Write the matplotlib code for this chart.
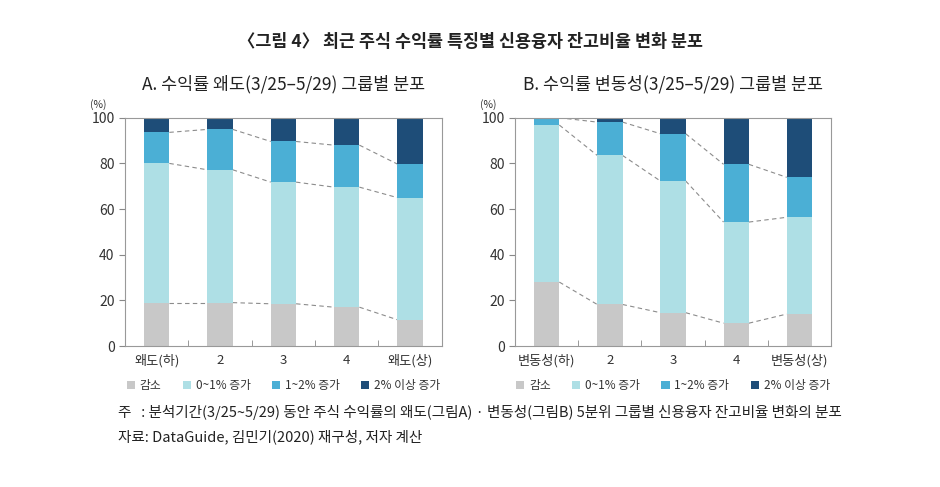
import matplotlib.pyplot as plt
from matplotlib.ticker import FixedLocator

plt.rcParams['font.family'] = ['Noto Sans CJK KR', 'DejaVu Sans']

labels_a = ['왜도(하)', '2', '3', '4', '왜도(상)']
labels_b = ['변동성(하)', '2', '3', '4', '변동성(상)']
series = ['감소', '0~1% 증가', '1~2% 증가', '2% 이상 증가']
colors = ['#c8c8c8', '#aedfe5', '#4bafd5', '#1e4d78']

# 각 구간 비율 (%)
a_dec = [19.0, 19.0, 18.5, 17.0, 11.5]
a_0_1 = [61.0, 58.2, 53.3, 52.6, 53.5]
a_1_2 = [13.6, 17.7, 17.8, 18.4, 14.7]
a_2up = [6.4, 5.1, 10.4, 12.0, 20.3]

b_dec = [28.0, 18.2, 14.6, 10.0, 14.0]
b_0_1 = [68.8, 65.3, 57.7, 44.3, 42.4]
b_1_2 = [3.2, 14.6, 20.7, 25.3, 17.5]
b_2up = [0.0, 1.9, 7.0, 20.4, 26.1]

fig = plt.figure(figsize=(9.4, 4.87), dpi=100)

def draw(ax, labels, parts, subtitle):
    x = list(range(len(labels)))
    w = 0.4
    bottom = [0] * len(x)
    tops = []
    for vals, c, name in zip(parts, colors, series):
        ax.bar(x, vals, w, bottom=bottom, color=c, label=name, zorder=2)
        bottom = [b + v for b, v in zip(bottom, vals)]
        tops.append(list(bottom))
    for t in tops[:3]:
        for i in range(len(x) - 1):
            ax.plot([x[i] + w / 2, x[i + 1] - w / 2], [t[i], t[i + 1]],
                    ls=(0, (4, 3)), color='#8c8c8c', lw=0.8, zorder=1)
    ax.set_xlim(-0.5, len(x) - 0.5)
    ax.set_ylim(0, 100)
    ax.set_yticks([0, 20, 40, 60, 80, 100])
    ax.set_xticks(x)
    ax.set_xticklabels(labels, fontsize=9.5, color='#333333')
    ax.xaxis.set_minor_locator(FixedLocator([0.5, 1.5, 2.5, 3.5]))
    ax.tick_params(axis='x', which='major', length=0, pad=6)
    ax.tick_params(axis='x', which='minor', length=4, direction='in', color='#888888')
    ax.tick_params(axis='y', length=4, direction='out', color='#888888',
                   labelsize=10, labelcolor='#333333')
    for s in ax.spines.values():
        s.set_color('#999999')
        s.set_linewidth(0.8)
    ax.text(-0.11, 1.045, '(%)', transform=ax.transAxes, fontsize=7.5, color='#333333')
    ax.set_title(subtitle, fontsize=12.5, pad=20, color='#222222')
    ax.legend(ncol=4, loc='upper center', bbox_to_anchor=(0.5, -0.1), frameon=False,
              handlelength=0.7, handleheight=0.7, handletextpad=0.4, columnspacing=1.8,
              fontsize=8.5, labelcolor='#333333')

ax1 = fig.add_axes([0.133, 0.2895, 0.337, 0.4687])
ax2 = fig.add_axes([0.548, 0.2895, 0.336, 0.4687])
draw(ax1, labels_a, [a_dec, a_0_1, a_1_2, a_2up], 'A. 수익률 왜도(3/25–5/29) 그룹별 분포')
draw(ax2, labels_b, [b_dec, b_0_1, b_1_2, b_2up], 'B. 수익률 변동성(3/25–5/29) 그룹별 분포')

fig.text(0.5, 0.914, '〈그림 4〉 최근 주식 수익률 특징별 신용융자 잔고비율 변화 분포',
         ha='center', va='center', fontsize=12.5, fontweight='bold', color='#222222')
fig.text(0.126, 0.152, '주   : 분석기간(3/25~5/29) 동안 주식 수익률의 왜도(그림A) · 변동성(그림B) 5분위 그룹별 신용융자 잔고비율 변화의 분포',
         va='center', fontsize=10.5, color='#222222')
fig.text(0.126, 0.103, '자료: DataGuide, 김민기(2020) 재구성, 저자 계산',
         va='center', fontsize=10.5, color='#222222')

plt.savefig('out.png', dpi=100)
